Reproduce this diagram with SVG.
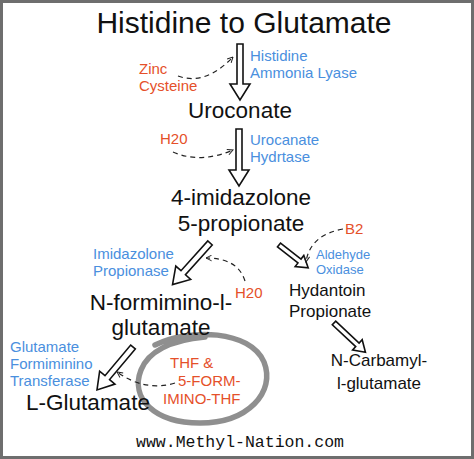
<svg xmlns="http://www.w3.org/2000/svg" width="474" height="459" viewBox="0 0 474 459">
<style>
text{font-family:"Liberation Sans",Arial,sans-serif;fill:#111}
.t{font-size:30px}
.c{font-size:22.5px;text-anchor:middle}
.s{font-size:17px}
.r{fill:#e5502a;font-size:15px}
.b{fill:#4a8fde;font-size:15px}
.bs{fill:#4a8fde;font-size:13px}
.big{fill:#fff;stroke:#111;stroke-width:1.6;stroke-linejoin:miter}
.dash{fill:none;stroke:#222;stroke-width:1.2;stroke-dasharray:5,4}
.web{font-family:"Liberation Mono","Courier New",monospace;font-size:16.5px;text-anchor:middle}
</style>
<defs>
<marker id="op" viewBox="0 0 10 10" refX="9" refY="5" markerWidth="7" markerHeight="7" orient="auto" markerUnits="userSpaceOnUse">
<path d="M1,1 L9,5 L1,9" fill="none" stroke="#222" stroke-width="1.4"/>
</marker>
</defs>
<rect x="0" y="0" width="474" height="459" fill="#fff"/>
<rect x="1.5" y="1.5" width="471" height="456" fill="none" stroke="#6e6e6e" stroke-width="3"/>

<g id="circle">
<path d="M155,345 C190,328 250,330 264,362 C276,392 248,423 200,423 C154,423 130,398 141,370 C148,352 170,340 205,337" fill="none" stroke="#8f8f8f" stroke-width="5.5" stroke-linecap="round"/>
</g>

<g id="connectors">
<polygon class="big" transform="translate(240,44) rotate(90)" points="0,-3 40,-3 40,-10 56,0 40,10 40,3 0,3"/>
<polygon class="big" transform="translate(239,129) rotate(90)" points="0,-3 41,-3 41,-10 57,0 41,10 41,3 0,3"/>
<polygon class="big" transform="translate(210,243) rotate(132)" points="0,-3 40,-3 40,-10 56,0 40,10 40,3 0,3"/>
<polygon class="big" transform="translate(279,245) rotate(38)" points="0,-2.5 26,-2.5 26,-7 37,0 26,7 26,2.5 0,2.5"/>
<polygon class="big" transform="translate(133,347) rotate(130)" points="0,-3 40,-3 40,-10 56,0 40,10 40,3 0,3"/>
<polygon class="big" transform="translate(334,323) rotate(43)" points="0,-2.5 32,-2.5 32,-7 43,0 32,7 32,2.5 0,2.5"/>
<path class="dash" d="M178,76 Q205,86 233,57" marker-end="url(#op)"/>
<path class="dash" d="M173,152 Q200,164 233,150" marker-end="url(#op)"/>
<path class="dash" d="M245,281 Q238,258 206,258" marker-end="url(#op)"/>
<path class="dash" d="M343,229 Q310,235 306,262" marker-end="url(#op)"/>
<path class="dash" d="M175,383 Q145,392 117,372" marker-end="url(#op)"/>
</g>

<g id="title"><text class="t" x="244" y="33" text-anchor="middle">Histidine to Glutamate</text></g>
<g id="histidine-ammonia-lyase"><text class="b" x="250" y="61">Histidine</text><text class="b" x="250" y="78">Ammonia Lyase</text></g>
<g id="zinc-cysteine"><text class="r" x="139" y="74">Zinc</text><text class="r" x="139" y="91">Cysteine</text></g>
<g id="uroconate"><text class="c" x="240" y="118">Uroconate</text></g>
<g id="h2o-1"><text class="r" x="160" y="144">H20</text></g>
<g id="urocanate-hydrtase"><text class="b" x="250" y="145">Urocanate</text><text class="b" x="250" y="162">Hydrtase</text></g>
<g id="imidazolone-propionate"><text class="c" x="241" y="205">4-imidazolone</text><text class="c" x="241" y="231">5-propionate</text></g>
<g id="b2"><text class="r" x="345" y="234">B2</text></g>
<g id="aldehyde-oxidase"><text class="bs" x="316" y="259">Aldehyde</text><text class="bs" x="316" y="274">Oxidase</text></g>
<g id="imidazolone-propionase"><text class="b" x="93" y="259">Imidazolone</text><text class="b" x="93" y="276">Propionase</text></g>
<g id="h2o-2"><text class="r" x="235" y="298">H20</text></g>
<g id="hydantoin-propionate"><text class="s" x="289" y="296">Hydantoin</text><text class="s" x="289" y="317">Propionate</text></g>
<g id="n-formimino-l-glutamate"><text class="c" x="161" y="310">N-formimino-l-</text><text class="c" x="161" y="335">glutamate</text></g>
<g id="n-carbamyl-l-glutamate"><text class="s" x="379" y="366" text-anchor="middle">N-Carbamyl-</text><text class="s" x="379" y="389" text-anchor="middle">l-glutamate</text></g>
<g id="glutamate-formiminino-transferase"><text class="b" x="10" y="352">Glutamate</text><text class="b" x="10" y="369">Formiminino</text><text class="b" x="10" y="386">Transferase</text></g>
<g id="thf"><text class="r" x="170" y="368">THF &amp;</text><text class="r" x="178" y="386">5-FORM-</text><text class="r" x="163" y="404">IMINO-THF</text></g>
<g id="l-glutamate"><text class="c" x="88" y="410">L-Glutamate</text></g>
<g id="website"><text class="web" x="240" y="447">www.Methyl-Nation.com</text></g>
</svg>
